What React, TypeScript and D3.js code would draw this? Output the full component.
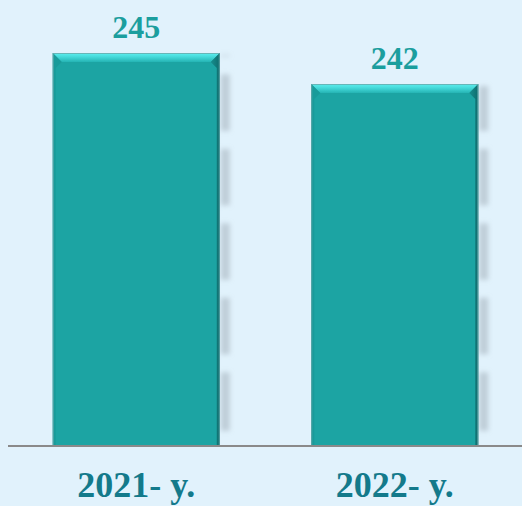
import React from 'react';
import * as d3 from 'd3';

const categories = ['2021- y.', '2022- y.'];
const values = [245, 242];
const yDomain = [207, 245];
// hidden gridlines that cut through the bar shadows
const gridTicks = [207.6, 215, 222.2, 229.4, 236.6, 243.8];

const W = 522;
const H = 506;
const baseY = 446;

const App = () => {
  const x = d3.scaleBand<string>()
    .domain(categories)
    .range([7, 524])
    .paddingInner(0.354)
    .paddingOuter(0.177);

  const y = d3.scaleLinear()
    .domain(yDomain)
    .range([baseY, 53]);

  const gridPx = gridTicks.map(t => y(t)).sort((a, b) => b - a);
  const bevel = 9;

  return (
    <svg width={W} height={H} style={{ position: 'absolute', left: 0, top: 0 }}>
      <defs>
        <filter id="blur" x="-50%" y="-10%" width="200%" height="120%">
          <feGaussianBlur stdDeviation="2.8" />
        </filter>
        <linearGradient id="topBevel" x1="0" y1="0" x2="0" y2="1">
          <stop offset="0" stopColor="#5ef0f0" />
          <stop offset="0.45" stopColor="#44d8d8" />
          <stop offset="1" stopColor="#25b4b4" />
        </linearGradient>
        <linearGradient id="rightEdge" x1="0" y1="0" x2="1" y2="0">
          <stop offset="0" stopColor="#178f8f" />
          <stop offset="1" stopColor="#0e6c6d" />
        </linearGradient>
      </defs>
      <rect width={W} height={H} fill="#e1f2fc" />

      {values.map((v, i) => {
        const x1 = x(categories[i])! + x.bandwidth();
        const top = y(v);
        const segs: [number, number][] = [];
        for (let k = 0; k < gridPx.length; k++) {
          const bottom = gridPx[k] - 9;
          const upper = k + 1 < gridPx.length ? gridPx[k + 1] + 9 : top;
          const s = Math.max(upper, top + 2);
          if (bottom > s) segs.push([s, bottom]);
        }
        return (
          <g key={'sh' + i} filter="url(#blur)">
            {segs.map(([a, b], j) => (
              <rect key={j} x={x1 + 1} y={a} width={9} height={b - a} fill="#9eaab4" opacity={0.5} />
            ))}
          </g>
        );
      })}

      {values.map((v, i) => {
        const x0 = x(categories[i])!;
        const x1 = x0 + x.bandwidth();
        const top = y(v);
        return (
          <g key={'bar' + i}>
            <rect x={x0} y={top} width={x1 - x0} height={baseY - top} fill="#1ca4a3" />
            <polygon
              points={`${x0},${top} ${x1},${top} ${x1 - bevel},${top + bevel} ${x0 + bevel},${top + bevel}`}
              fill="url(#topBevel)"
            />
            <polygon
              points={`${x0},${top} ${x0 + bevel},${top + bevel} ${x0 + 3},${top + bevel + 6} ${x0 + 3},${baseY} ${x0},${baseY}`}
              fill="#189897"
              opacity={0.8}
            />
            <polygon
              points={`${x1},${top} ${x1 - bevel},${top + bevel} ${x1 - 3},${top + bevel + 6} ${x1 - 3},${baseY} ${x1},${baseY}`}
              fill="url(#rightEdge)"
            />
            <rect x={x0 + 0.5} y={top + 0.5} width={x1 - x0 - 1} height={baseY - top} fill="none" stroke="#6aa8aa" strokeWidth={1} opacity={0.8} />
            <text
              x={x0 + x.bandwidth() / 2}
              y={top - 15}
              textAnchor="middle"
              fontFamily="'Liberation Serif', 'Times New Roman', serif"
              fontWeight="bold"
              fontSize={32}
              fill="#1b9e9e"
            >
              {v}
            </text>
          </g>
        );
      })}

      <line x1={8} x2={W} y1={baseY} y2={baseY} stroke="#8a8a8a" strokeWidth={2} />

      {categories.map(c => (
        <text
          key={c}
          x={x(c)! + x.bandwidth() / 2}
          y={497}
          textAnchor="middle"
          fontFamily="'Liberation Serif', 'Times New Roman', serif"
          fontWeight="bold"
          fontSize={36}
          fill="#137a8b"
        >
          {c}
        </text>
      ))}
    </svg>
  );
};

export default App;
